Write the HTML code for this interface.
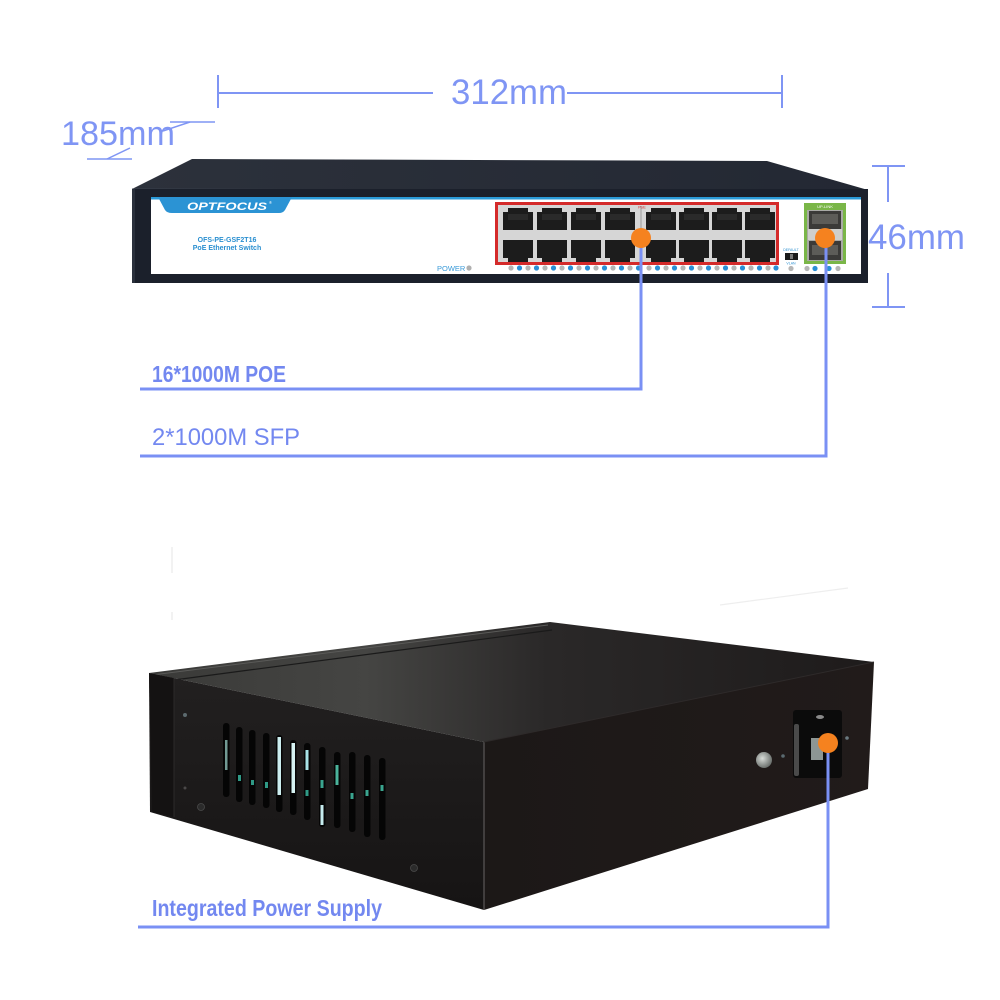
<!DOCTYPE html>
<html>
<head>
<meta charset="utf-8">
<style>
html,body{margin:0;padding:0;background:#fff;}
svg{display:block;}
</style>
</head>
<body>
<svg width="1000" height="1000" viewBox="0 0 1000 1000" xmlns="http://www.w3.org/2000/svg">
<defs>
  <linearGradient id="topface" x1="0" y1="0" x2="1" y2="0">
    <stop offset="0" stop-color="#2c313b"/>
    <stop offset="1" stop-color="#232833"/>
  </linearGradient>
  <linearGradient id="btop" x1="149" y1="0" x2="874" y2="0" gradientUnits="userSpaceOnUse">
    <stop offset="0" stop-color="#3a3a38"/>
    <stop offset="0.3" stop-color="#454543"/>
    <stop offset="0.55" stop-color="#2a2828"/>
    <stop offset="1" stop-color="#1e1b1b"/>
  </linearGradient>
  <linearGradient id="bleft" x1="0" y1="673" x2="0" y2="910" gradientUnits="userSpaceOnUse">
    <stop offset="0" stop-color="#222020"/>
    <stop offset="1" stop-color="#161414"/>
  </linearGradient>
  <linearGradient id="bright" x1="484" y1="0" x2="874" y2="0" gradientUnits="userSpaceOnUse">
    <stop offset="0" stop-color="#1c1817"/>
    <stop offset="1" stop-color="#211b1a"/>
  </linearGradient>
  <radialGradient id="screw" cx="0.4" cy="0.4" r="0.6">
    <stop offset="0" stop-color="#d8dcd8"/>
    <stop offset="1" stop-color="#6d726f"/>
  </radialGradient>
</defs>

<!-- ============ DIMENSIONS ============ -->
<g stroke="#7f95f4" stroke-width="2" fill="none">
  <line x1="218" y1="75" x2="218" y2="108"/>
  <line x1="218" y1="93" x2="433" y2="93"/>
  <line x1="567" y1="93" x2="782" y2="93"/>
  <line x1="782" y1="75" x2="782" y2="108"/>
  <line x1="170" y1="122" x2="215" y2="122" stroke-width="1.5"/>
  <line x1="163" y1="131" x2="190" y2="122" stroke-width="1.5"/>
  <line x1="87" y1="159" x2="132" y2="159" stroke-width="1.5"/>
  <line x1="107" y1="159" x2="130" y2="148" stroke-width="1.5"/>
  <line x1="872" y1="166" x2="905" y2="166"/>
  <line x1="888" y1="166" x2="888" y2="202"/>
  <line x1="888" y1="273" x2="888" y2="307"/>
  <line x1="872" y1="307" x2="905" y2="307"/>
</g>
<g font-family="'Liberation Sans', Arial, sans-serif" fill="#7f95f4">
  <text x="451" y="104" font-size="35" textLength="116" lengthAdjust="spacingAndGlyphs">312mm</text>
  <text x="61" y="145" font-size="34" textLength="114" lengthAdjust="spacingAndGlyphs">185mm</text>
  <text x="868" y="249" font-size="35" textLength="97" lengthAdjust="spacingAndGlyphs">46mm</text>
</g>

<!-- ============ FRONT SWITCH ============ -->
<polygon points="192,159 767,161 868,190 132,189" fill="url(#topface)"/>
<line x1="132" y1="189" x2="868" y2="191" stroke="#3c4350" stroke-width="1"/>
<rect x="132" y="189" width="736" height="94" fill="#1b202b"/>
<rect x="132" y="189" width="3" height="94" fill="#2a303c"/>
<rect x="151" y="197" width="710" height="77" fill="#ffffff"/>
<rect x="151" y="197" width="710" height="2.5" fill="#2a9ad8"/>
<path d="M158,197 L292,197 L285,210 Q283,213 279,213 L172,213 Q167,213 165,210 Z" fill="#2b93d4"/>
<text x="187" y="210" font-family="'Liberation Sans', Arial, sans-serif" font-size="11" font-weight="bold" font-style="italic" fill="#ffffff" textLength="80" lengthAdjust="spacingAndGlyphs">OPTFOCUS</text>
<text x="269" y="204" font-family="'Liberation Sans', Arial, sans-serif" font-size="4" fill="#ffffff">®</text>
<g font-family="'Liberation Sans', Arial, sans-serif" font-weight="bold" fill="#2a8fd0" text-anchor="middle">
  <text x="227" y="242" font-size="7">OFS-PE-GSF2T16</text>
  <text x="227" y="250" font-size="7">PoE Ethernet Switch</text>
</g>
<text x="437" y="271" font-family="'Liberation Sans', Arial, sans-serif" font-size="7.5" fill="#3a9ad8">POWER</text>
<circle cx="469" cy="268" r="2.6" fill="#b0b0b0"/>

<!-- PoE port block -->
<rect x="495" y="202" width="284" height="63" fill="#d42a2a"/>
<rect x="498" y="205" width="278" height="57" fill="#d6d6d6"/>
<line x1="641" y1="206" x2="641" y2="261" stroke="#999" stroke-width="1"/>
<text x="642" y="208.5" font-family="'Liberation Sans', Arial, sans-serif" font-size="4" fill="#d42a2a" text-anchor="middle">PoE</text>
<g fill="#1c1c1c">
  <!-- top row -->
  <path d="M503,212 h5 v-4 h20 v4 h5 v18 h-30 z"/>
  <path d="M537,212 h5 v-4 h20 v4 h5 v18 h-30 z"/>
  <path d="M571,212 h5 v-4 h20 v4 h5 v18 h-30 z"/>
  <path d="M605,212 h5 v-4 h20 v4 h5 v18 h-30 z"/>
  <path d="M646,212 h5 v-4 h20 v4 h5 v18 h-30 z"/>
  <path d="M679,212 h5 v-4 h20 v4 h5 v18 h-30 z"/>
  <path d="M712,212 h5 v-4 h20 v4 h5 v18 h-30 z"/>
  <path d="M745,212 h5 v-4 h20 v4 h5 v18 h-30 z"/>
  <!-- bottom row -->
  <path d="M503,240 h30 v18 h-5 v4 h-20 v-4 h-5 z"/>
  <path d="M537,240 h30 v18 h-5 v4 h-20 v-4 h-5 z"/>
  <path d="M571,240 h30 v18 h-5 v4 h-20 v-4 h-5 z"/>
  <path d="M605,240 h30 v18 h-5 v4 h-20 v-4 h-5 z"/>
  <path d="M646,240 h30 v18 h-5 v4 h-20 v-4 h-5 z"/>
  <path d="M679,240 h30 v18 h-5 v4 h-20 v-4 h-5 z"/>
  <path d="M712,240 h30 v18 h-5 v4 h-20 v-4 h-5 z"/>
  <path d="M745,240 h30 v18 h-5 v4 h-20 v-4 h-5 z"/>
</g>
<g fill="#2e2e2e" opacity="0.8">
  <rect x="508" y="214" width="20" height="6"/><rect x="542" y="214" width="20" height="6"/>
  <rect x="576" y="214" width="20" height="6"/><rect x="610" y="214" width="20" height="6"/>
  <rect x="651" y="214" width="20" height="6"/><rect x="684" y="214" width="20" height="6"/>
  <rect x="717" y="214" width="20" height="6"/><rect x="750" y="214" width="20" height="6"/>
</g>

<!-- LEDs -->
<g>
  <circle cx="511" cy="268" r="2.6" fill="#b5b5b5"/><circle cx="519.5" cy="268" r="2.6" fill="#2b8fd6"/>
  <circle cx="528" cy="268" r="2.6" fill="#b5b5b5"/><circle cx="536.5" cy="268" r="2.6" fill="#2b8fd6"/>
  <circle cx="545" cy="268" r="2.6" fill="#b5b5b5"/><circle cx="553.5" cy="268" r="2.6" fill="#2b8fd6"/>
  <circle cx="562" cy="268" r="2.6" fill="#b5b5b5"/><circle cx="570.5" cy="268" r="2.6" fill="#2b8fd6"/>
  <circle cx="579" cy="268" r="2.6" fill="#b5b5b5"/><circle cx="587.5" cy="268" r="2.6" fill="#2b8fd6"/>
  <circle cx="596" cy="268" r="2.6" fill="#b5b5b5"/><circle cx="604.5" cy="268" r="2.6" fill="#2b8fd6"/>
  <circle cx="613" cy="268" r="2.6" fill="#b5b5b5"/><circle cx="621.5" cy="268" r="2.6" fill="#2b8fd6"/>
  <circle cx="630" cy="268" r="2.6" fill="#b5b5b5"/><circle cx="638.5" cy="268" r="2.6" fill="#2b8fd6"/>
  <circle cx="649" cy="268" r="2.6" fill="#b5b5b5"/><circle cx="657.5" cy="268" r="2.6" fill="#2b8fd6"/>
  <circle cx="666" cy="268" r="2.6" fill="#b5b5b5"/><circle cx="674.5" cy="268" r="2.6" fill="#2b8fd6"/>
  <circle cx="683" cy="268" r="2.6" fill="#b5b5b5"/><circle cx="691.5" cy="268" r="2.6" fill="#2b8fd6"/>
  <circle cx="700" cy="268" r="2.6" fill="#b5b5b5"/><circle cx="708.5" cy="268" r="2.6" fill="#2b8fd6"/>
  <circle cx="717" cy="268" r="2.6" fill="#b5b5b5"/><circle cx="725.5" cy="268" r="2.6" fill="#2b8fd6"/>
  <circle cx="734" cy="268" r="2.6" fill="#b5b5b5"/><circle cx="742.5" cy="268" r="2.6" fill="#2b8fd6"/>
  <circle cx="751" cy="268" r="2.6" fill="#b5b5b5"/><circle cx="759.5" cy="268" r="2.6" fill="#2b8fd6"/>
  <circle cx="768" cy="268" r="2.6" fill="#b5b5b5"/><circle cx="776" cy="268" r="2.6" fill="#2b8fd6"/>
</g>

<!-- VLAN -->
<text x="791" y="251" font-family="'Liberation Sans', Arial, sans-serif" font-size="3.5" fill="#2a8fd0" text-anchor="middle">DEFAULT</text>
<rect x="785" y="253" width="13" height="7" fill="#1a1a1a"/>
<rect x="790" y="254" width="3" height="5" fill="#777"/>
<text x="791" y="264.5" font-family="'Liberation Sans', Arial, sans-serif" font-size="3.5" fill="#2a8fd0" text-anchor="middle">VLAN</text>
<circle cx="791" cy="268.5" r="2.6" fill="#b5b5b5"/>

<!-- SFP -->
<rect x="804" y="203" width="42" height="61" fill="#7ab648"/>
<text x="825" y="208" font-family="'Liberation Sans', Arial, sans-serif" font-size="4" fill="#ffffff" text-anchor="middle">UP-LINK</text>
<rect x="807" y="210" width="36" height="51" fill="#a9a9a6"/>
<rect x="809" y="211" width="32" height="18" fill="#3b3a38"/>
<rect x="812" y="214" width="26" height="10" fill="#5d5c58"/>
<rect x="808" y="229" width="34" height="11" fill="#cfcfcc"/>
<rect x="809" y="241" width="32" height="19" fill="#3b3a38"/>
<rect x="812" y="245" width="26" height="10" fill="#5d5c58"/>
<circle cx="807" cy="268.5" r="2.6" fill="#b5b5b5"/>
<circle cx="815" cy="268.5" r="2.6" fill="#2b8fd6"/>
<circle cx="829" cy="268.5" r="2.6" fill="#2b8fd6"/>
<circle cx="838" cy="268.5" r="2.6" fill="#b5b5b5"/>

<!-- ============ REAR DEVICE ============ -->
<g stroke="#e8e8e8" stroke-width="1.2" fill="none">
  <line x1="172" y1="547" x2="172" y2="573"/>
  <line x1="172" y1="612" x2="172" y2="620"/>
  <line x1="720" y1="605" x2="848" y2="588" stroke="#eeeeee"/>
</g>
<polygon points="149,673 550,622 874,662 484,742" fill="url(#btop)"/>
<line x1="152" y1="675" x2="548" y2="625" stroke="#5a5a58" stroke-width="1"/>
<line x1="174" y1="680" x2="552" y2="630" stroke="#1a1a1a" stroke-width="1.2"/>
<polygon points="149,673 484,742 484,910 150,812" fill="url(#bleft)"/>
<polygon points="149,673 174,678 174,817 152,812" fill="#141212"/>
<line x1="174" y1="678" x2="174" y2="817" stroke="#2c2a2a" stroke-width="1"/>
<polygon points="484,742 874,662 868,789 484,910" fill="url(#bright)"/>
<line x1="484" y1="742" x2="484" y2="910" stroke="#5b5858" stroke-width="1.2"/>
<line x1="484" y1="742" x2="874" y2="662" stroke="#2e2a2a" stroke-width="1"/>

<!-- vents -->
<g fill="#050505">
  <rect x="223" y="723" width="6.5" height="74" rx="3"/>
  <rect x="236" y="727" width="6.5" height="75" rx="3"/>
  <rect x="249" y="730" width="6.5" height="75" rx="3"/>
  <rect x="263" y="733" width="6.5" height="75" rx="3"/>
  <rect x="276" y="735" width="6.5" height="77" rx="3"/>
  <rect x="290" y="740" width="6.5" height="75" rx="3"/>
  <rect x="304" y="743" width="6.5" height="77" rx="3"/>
  <rect x="319" y="747" width="6.5" height="80" rx="3"/>
  <rect x="334" y="752" width="6.5" height="76" rx="3"/>
  <rect x="349" y="752" width="6.5" height="80" rx="3"/>
  <rect x="364" y="755" width="6.5" height="82" rx="3"/>
  <rect x="379" y="758" width="6.5" height="82" rx="3"/>
</g>
<g>
  <rect x="225" y="740" width="2.5" height="30" fill="#9fd8d0" opacity="0.7"/>
  <rect x="238" y="775" width="3" height="6" fill="#2f9a86"/>
  <rect x="251" y="780" width="3" height="5" fill="#2f9a86"/>
  <rect x="265" y="782" width="3" height="6" fill="#2f9a86"/>
  <rect x="277.5" y="737" width="3.5" height="58" fill="#cdeef0"/>
  <rect x="291.5" y="743" width="3.5" height="50" fill="#d6f2f2"/>
  <rect x="305.5" y="750" width="3" height="20" fill="#a8e2e6"/>
  <rect x="305.5" y="790" width="3" height="6" fill="#2f9a86"/>
  <rect x="320.5" y="780" width="3" height="8" fill="#3aa58f"/>
  <rect x="320.5" y="805" width="3" height="20" fill="#c6ecee"/>
  <rect x="335.5" y="765" width="3" height="20" fill="#4ab39b"/>
  <rect x="350.5" y="793" width="3" height="6" fill="#3aa58f"/>
  <rect x="365.5" y="790" width="3" height="6" fill="#3aa58f"/>
  <rect x="380.5" y="785" width="3" height="6" fill="#3aa58f"/>
</g>
<!-- screws -->
<circle cx="185" cy="715" r="2" fill="#5c6a6e"/>
<circle cx="185" cy="788" r="1.5" fill="#4a4848"/>
<circle cx="201" cy="807" r="3.5" fill="#2b2b2b" stroke="#4a4a4a" stroke-width="0.8"/>
<circle cx="414" cy="868" r="3.5" fill="#2b2b2b" stroke="#4a4a4a" stroke-width="0.8"/>

<!-- power socket -->
<rect x="793" y="710" width="49" height="68" rx="3" fill="#0b0b0b"/>
<rect x="794" y="724" width="5" height="52" rx="2" fill="#4a4a4a"/>
<ellipse cx="820" cy="717" rx="4" ry="2" fill="#8a8a8a"/>
<rect x="811" y="738" width="12" height="22" fill="#8d9694"/>
<circle cx="764" cy="760" r="8" fill="url(#screw)"/>
<circle cx="783" cy="756" r="1.8" fill="#5a6a70"/>
<circle cx="847" cy="738" r="1.8" fill="#6a7a80"/>

<!-- ============ CONNECTORS ============ -->
<g stroke="#7a90f4" stroke-width="3" fill="none">
  <polyline points="641,238 641,389 140,389"/>
  <polyline points="826,238 826,456 140,456"/>
  <polyline points="828,744 828,927 138,927"/>
</g>
<circle cx="641" cy="238" r="10" fill="#f5821f"/>
<circle cx="825" cy="238" r="10" fill="#f5821f"/>
<circle cx="828" cy="743" r="10" fill="#f5821f"/>

<g font-family="'Liberation Sans', Arial, sans-serif" fill="#7388f0">
  <text x="152" y="382" font-size="23" font-weight="bold" textLength="134" lengthAdjust="spacingAndGlyphs">16*1000M POE</text>
  <text x="152" y="445" font-size="24" textLength="148" lengthAdjust="spacingAndGlyphs">2*1000M SFP</text>
  <text x="152" y="916" font-size="23" font-weight="bold" textLength="230" lengthAdjust="spacingAndGlyphs">Integrated Power Supply</text>
</g>
</svg>
</body>
</html>
